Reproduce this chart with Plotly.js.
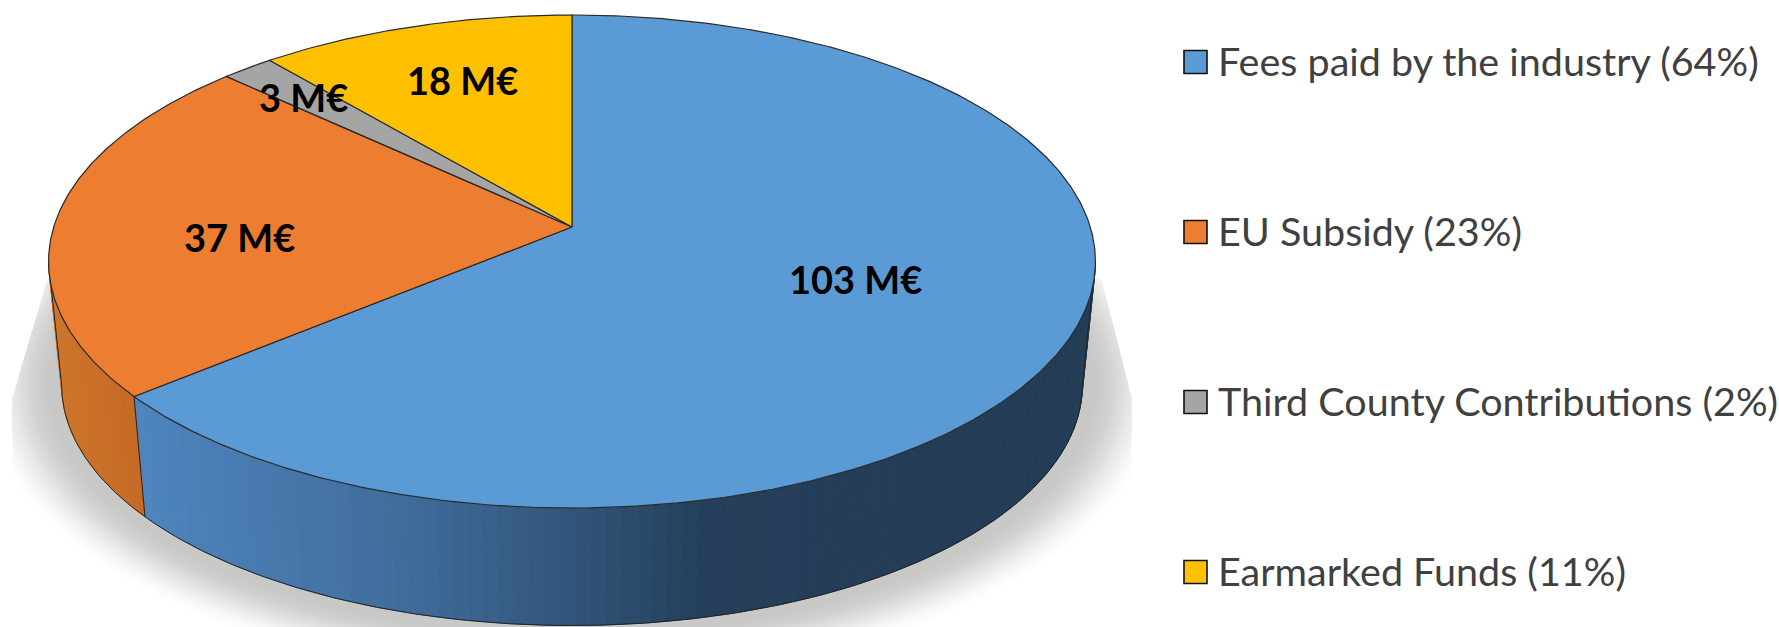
<!DOCTYPE html>
<html>
<head>
<meta charset="utf-8">
<script src="https://cdn.plot.ly/plotly-3.0.1.min.js"></script>
<style>html,body{margin:0;padding:0;background:#fff;overflow:hidden}
svg text{font-variant-ligatures:none}</style>
</head>
<body>
<div id="chart" style="width:1779px;height:627px"></div>
<script>
const categories = ["Fees paid by the industry", "EU Subsidy", "Third County Contributions", "Earmarked Funds"];
const values = [103, 37, 3, 18];
const shares = [64, 23, 2, 11];
const unit = " M€";
const colors = ["#5B9BD5", "#ED7D31", "#A5A5A5", "#FFC000"];

// Perspective view of the disc
const view = {cx: 572, cy: 227, ax: 518.3, ay: 241.7, k: 0.14, baseCy: 351.5, baseScale: 0.975};
const total = values.reduce((a, b) => a + b, 0);
const rad = d => d * Math.PI / 180;

function rim(deg, base) {
  const X = Math.sin(rad(deg)), Y = -Math.cos(rad(deg));
  const w = 1 - view.k * Y, s = base ? view.baseScale : 1;
  return [view.cx + s * view.ax * X / w, (base ? view.baseCy : view.cy) + s * view.ay * Y / w];
}
function arc(a, b, base, step) {
  const n = Math.max(1, Math.ceil(Math.abs(b - a) / (step || 0.5))), out = [];
  for (let i = 0; i <= n; i++) out.push(rim(a + (b - a) * i / n, base));
  return out;
}
function poly(pts, color, line, width) {
  return {type: "scatter", mode: line ? "lines" : "none", x: pts.map(p => p[0]), y: pts.map(p => p[1]),
    fill: "toself", fillcolor: color, line: {color: line || color, width: width || 0},
    hoverinfo: "skip", showlegend: false};
}
function path(pts, color, width) {
  return {type: "scatter", mode: "lines", x: pts.map(p => p[0]), y: pts.map(p => p[1]),
    line: {color: color, width: width}, hoverinfo: "skip", showlegend: false};
}
function mix(a, b, t) {
  t = Math.min(1, Math.max(0, t));
  return "rgb(" + a.map((v, i) => Math.round(v + (b[i] - v) * t)).join(",") + ")";
}

const traces = [];

// soft drop shadow, outermost ring first
const leftEdge = y => y < 400 ? 12 + (400 - y) * 36 / 122 : 12;
const rightEdge = y => y < 400 ? 1132 - (400 - y) * 31 / 122 : 1132;
for (let e = 84; e >= 0; e -= 2) {
  const pts = [];
  for (let d = 0; d <= 360; d += 3) {
    const ex = 511 + e, ey = 241 + e * 0.72;
    const y = Math.max(278, 385 + ey * Math.sin(rad(d)));
    const x = 572 + ex * Math.cos(rad(d));
    pts.push([Math.min(rightEdge(y), Math.max(leftEdge(y), x)), y]);
  }
  const t = 1 - (e - 8) / 76;
  traces.push(poly(pts, mix([255, 255, 255], [200, 200, 198], t * t * (3 - 2 * t))));
}

// slice boundaries, clockwise from the top
const edges = [0];
values.forEach(v => edges.push(edges[edges.length - 1] + v / total * 360));

// side wall
const rightTurn = 98, leftTurn = 262, step = 1.5;
const blueStops = [[134, [78, 133, 190]], [400, [64, 108, 155]], [590, [48, 82, 118]], [700, [37, 63, 90]], [1100, [35, 60, 85]]];
function blueAt(x) {
  for (let i = 1; i < blueStops.length; i++) {
    if (x <= blueStops[i][0]) {
      const [x0, c0] = blueStops[i - 1], [x1, c1] = blueStops[i];
      return mix(c0, c1, (x - x0) / (x1 - x0));
    }
  }
  return mix(blueStops[4][1], blueStops[4][1], 0);
}
function wall(a, b, colorAt) {
  const n = Math.ceil((b - a) / step);
  for (let i = 0; i < n; i++) {
    const d0 = a + (b - a) * i / n, d1 = a + (b - a) * (i + 1) / n;
    const top = arc(d0, d1, false, 0.4), bot = arc(d1, d0, true, 0.4);
    const col = colorAt(rim((d0 + d1) / 2, false)[0]);
    traces.push(poly(top.concat(bot, [top[0]]), col, col, 0.8));
  }
}
wall(rightTurn, edges[1], blueAt);
wall(edges[1], leftTurn, x => mix([206, 116, 41], [196, 106, 38], (x - 50) / 85));

// wall outlines
traces.push(path(arc(rightTurn, leftTurn, true), "#222", 1));
[rightTurn, edges[1], leftTurn].forEach(d => traces.push(path([rim(d, false), rim(d, true)], "#222", 1)));

// top face
values.forEach((v, i) => {
  const pts = [[view.cx, view.cy]].concat(arc(edges[i], edges[i + 1], false), [[view.cx, view.cy]]);
  const t = poly(pts, colors[i], "#2a2a2a", 1.2);
  t.name = categories[i];
  traces.push(t);
});

// legend keys
const keyY = [62, 232, 402, 572];
traces.push({type: "scatter", mode: "markers", x: categories.map(() => 1195.5), y: keyY,
  marker: {symbol: "square", size: 23, color: colors, line: {color: "#111", width: 1.6}},
  hoverinfo: "skip", showlegend: false});

const labelAt = [[855, 279], [239, 237], [303, 97], [462, 80]];
const annotations = [];
values.forEach((v, i) => annotations.push({
  x: labelAt[i][0], y: labelAt[i][1], text: "<b>" + v + unit + "</b>", showarrow: false,
  font: {family: "Lato, 'Open Sans', sans-serif", size: 38, color: "#000"}, xanchor: "center", yanchor: "middle"
}));
categories.forEach((c, i) => annotations.push({
  x: 1216, y: keyY[i] - 2, text: c + " (" + shares[i] + "%)", showarrow: false,
  font: {family: "Lato, 'Open Sans', sans-serif", size: 39.5, color: "#404040"}, xanchor: "left", yanchor: "middle"
}));

Plotly.newPlot("chart", traces, {
  width: 1779, height: 627, margin: {l: 0, r: 0, t: 0, b: 0}, showlegend: false,
  paper_bgcolor: "#fff", plot_bgcolor: "#fff", annotations: annotations,
  xaxis: {range: [0, 1779], visible: false, fixedrange: true},
  yaxis: {range: [627, 0], visible: false, fixedrange: true}
}, {displayModeBar: false, staticPlot: true});
</script>
</body>
</html>
